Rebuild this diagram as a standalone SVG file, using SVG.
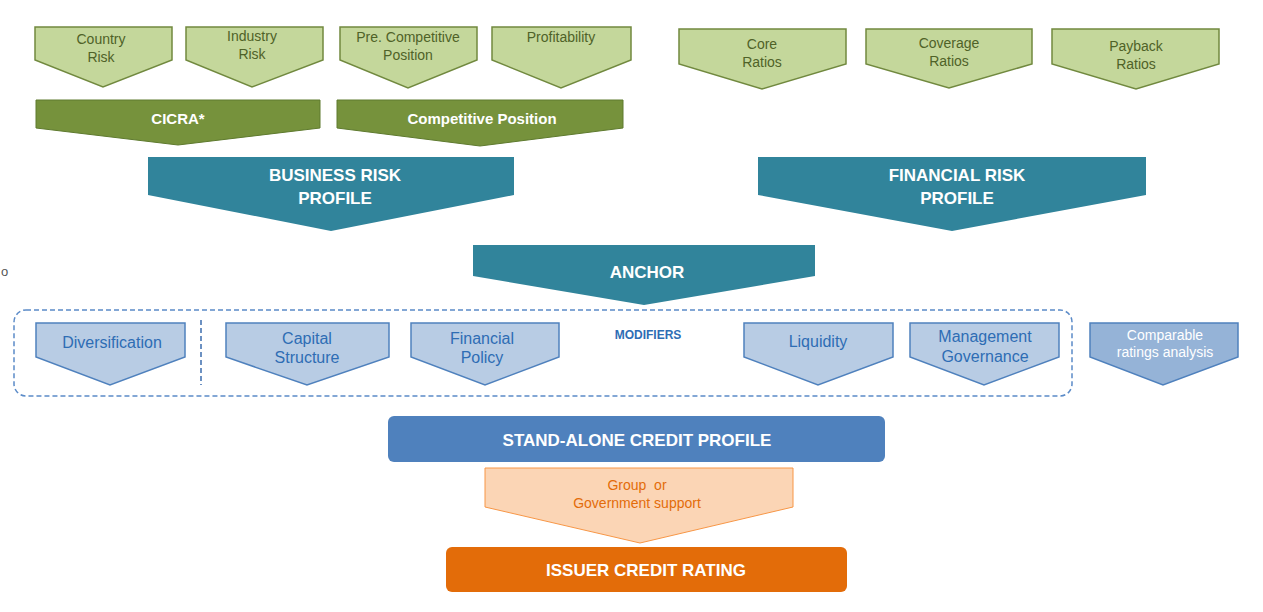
<svg xmlns="http://www.w3.org/2000/svg" width="1263" height="612" viewBox="0 0 1263 612">
<style>
text{font-family:"Liberation Sans",Arial,sans-serif;text-anchor:middle;dominant-baseline:central}
.lg{fill:#C4D79B;stroke:#71893F;stroke-width:1.5}
.lgt{fill:#4F6228;font-size:14px}
.dg{fill:#76923C;stroke:#5E7A2E;stroke-width:1}
.dgt{fill:#fff;font-size:15px;font-weight:bold}
.tl{fill:#31849B}
.tlt{fill:#fff;font-size:17px;font-weight:bold}
.lb{fill:#B8CCE4;stroke:#4F81BD;stroke-width:1.5}
.lbt{fill:#2E6DB4;font-size:16px}
.mb{fill:#95B3D7;stroke:#4F81BD;stroke-width:1.5}
.mbt{fill:#fff;font-size:14px}
</style>
<rect width="1263" height="612" fill="#fff"/>
<text x="1" y="271" style="fill:#555;font-size:13px;text-anchor:start">o</text>

<g id="country-risk"><path class="lg" d="M35 27H172V60L103 87L35 60Z"/><text class="lgt" x="101" y="39">Country</text><text class="lgt" x="101" y="57">Risk</text></g>
<g id="industry-risk"><path class="lg" d="M186 27H323V60L252 87L186 60Z"/><text class="lgt" x="252" y="36">Industry</text><text class="lgt" x="252" y="54">Risk</text></g>
<g id="pre-competitive"><path class="lg" d="M340 27H477V60L408 88L340 60Z"/><text class="lgt" x="408" y="37">Pre. Competitive</text><text class="lgt" x="408" y="55">Position</text></g>
<g id="profitability"><path class="lg" d="M492 27H631V60L561 88L492 60Z"/><text class="lgt" x="561" y="37">Profitability</text></g>
<g id="core-ratios"><path class="lg" d="M679 29H846V64L762 89L679 64Z"/><text class="lgt" x="762" y="44">Core</text><text class="lgt" x="762" y="62">Ratios</text></g>
<g id="coverage-ratios"><path class="lg" d="M866 29H1032V64L949 88L866 64Z"/><text class="lgt" x="949" y="43">Coverage</text><text class="lgt" x="949" y="61">Ratios</text></g>
<g id="payback-ratios"><path class="lg" d="M1052 29H1219V64L1136 89L1052 64Z"/><text class="lgt" x="1136" y="46">Payback</text><text class="lgt" x="1136" y="64">Ratios</text></g>

<g id="cicra"><path class="dg" d="M36 100H320V128L178 145L36 128Z"/><text class="dgt" x="178" y="118">CICRA*</text></g>
<g id="competitive-position"><path class="dg" d="M337 100H623V128L480 146L337 128Z"/><text class="dgt" x="482" y="118">Competitive Position</text></g>

<g id="business-risk"><path class="tl" d="M148 157H514V195L331 231L148 195Z"/><text class="tlt" x="335" y="175">BUSINESS RISK</text><text class="tlt" x="335" y="198">PROFILE</text></g>
<g id="financial-risk"><path class="tl" d="M758 157H1146V195L952 231L758 195Z"/><text class="tlt" x="957" y="175">FINANCIAL RISK</text><text class="tlt" x="957" y="198">PROFILE</text></g>
<g id="anchor"><path class="tl" d="M473 245H815V276L644 305L473 276Z"/><text class="tlt" x="647" y="272">ANCHOR</text></g>

<g id="modifiers">
<rect x="14" y="310" width="1058" height="86" rx="12" fill="none" stroke="#5B8BC8" stroke-width="1.5" stroke-dasharray="5 3"/>
<line x1="201" y1="320" x2="201" y2="385" stroke="#3C6EAE" stroke-width="1.5" stroke-dasharray="5 3"/>
<text x="648" y="335" style="fill:#2E6DB4;font-size:12px;font-weight:bold">MODIFIERS</text>
</g>
<g id="diversification"><path class="lb" d="M36 323H185V357L110 385L36 357Z"/><text class="lbt" x="112" y="342">Diversification</text></g>
<g id="capital-structure"><path class="lb" d="M226 323H389V357L307 385L226 357Z"/><text class="lbt" x="307" y="338">Capital</text><text class="lbt" x="307" y="357">Structure</text></g>
<g id="financial-policy"><path class="lb" d="M411 323H559V357L485 385L411 357Z"/><text class="lbt" x="482" y="338">Financial</text><text class="lbt" x="482" y="357">Policy</text></g>
<g id="liquidity"><path class="lb" d="M744 323H893V357L818 385L744 357Z"/><text class="lbt" x="818" y="341">Liquidity</text></g>
<g id="management-governance"><path class="lb" d="M910 323H1059V357L984 385L910 357Z"/><text class="lbt" x="985" y="336">Management</text><text class="lbt" x="985" y="356">Governance</text></g>
<g id="comparable-ratings"><path class="mb" d="M1090 323H1238V357L1163 385L1090 357Z"/><text class="mbt" x="1165" y="335">Comparable</text><text class="mbt" x="1165" y="352">ratings analysis</text></g>

<g id="stand-alone"><rect x="388" y="416" width="497" height="46" rx="6" fill="#4F81BD"/><text class="tlt" x="637" y="440">STAND-ALONE CREDIT PROFILE</text></g>
<g id="group-support"><path d="M485 468H793V507L640 543L485 507Z" fill="#FBD5B5" stroke="#F79646" stroke-width="1"/><text x="637" y="485" xml:space="preserve" style="fill:#E36C09;font-size:14px">Group  or</text><text x="637" y="503" style="fill:#E36C09;font-size:14px">Government support</text></g>
<g id="issuer-rating"><rect x="446" y="547" width="401" height="45" rx="6" fill="#E36C09"/><text class="tlt" x="646" y="570">ISSUER CREDIT RATING</text></g>
<g id="connectors"></g>
</svg>
